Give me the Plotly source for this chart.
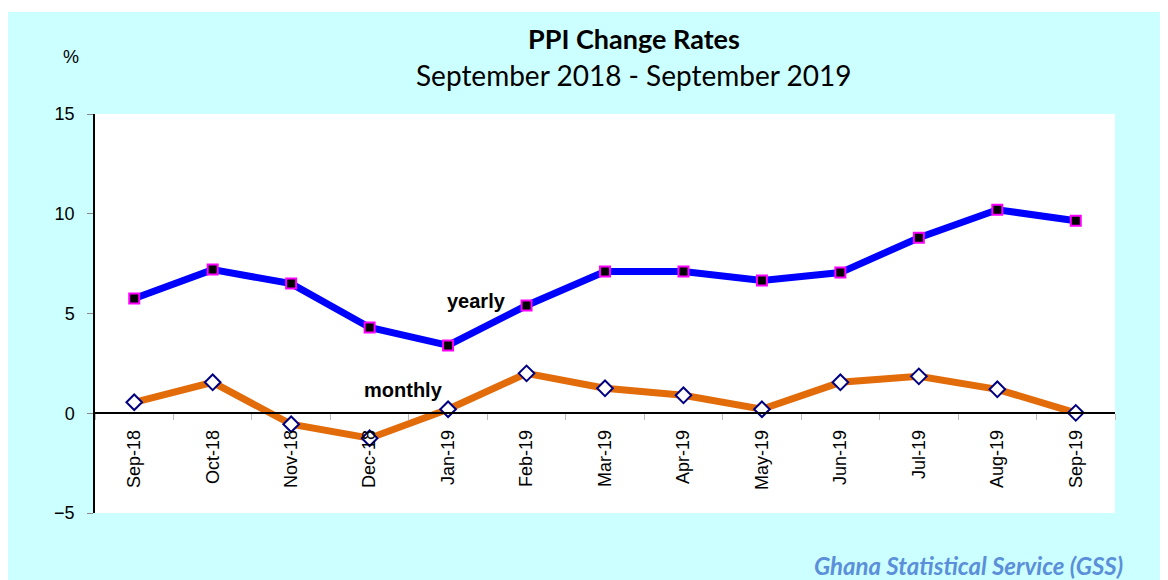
import plotly.graph_objects as go

months = ["Sep-18", "Oct-18", "Nov-18", "Dec-18", "Jan-19", "Feb-19", "Mar-19",
          "Apr-19", "May-19", "Jun-19", "Jul-19", "Aug-19", "Sep-19"]
yearly = [5.75, 7.2, 6.5, 4.3, 3.4, 5.4, 7.1, 7.1, 6.65, 7.05, 8.8, 10.2, 9.65]
monthly = [0.55, 1.55, -0.55, -1.25, 0.2, 2.0, 1.25, 0.9, 0.2, 1.55, 1.85, 1.2, 0.02]
y_ticks = [-5, 0, 5, 10, 15]

# page body has an 8px margin: work in screen pixels and shift by OFF
OFF = 8
W, H = 1168 - OFF, 580 - OFF
L, R, T, B = 95 - OFF, 1115 - OFF, 114 - OFF, 513 - OFF
pw, ph = R - L, B - T

def px(x):
    return (x - OFF - L) / pw

def py(y):
    return (B - (y - OFF)) / ph

fig = go.Figure()
fig.add_trace(go.Scatter(
    x=months, y=yearly, mode="lines+markers", name="yearly",
    line=dict(color="#0000FF", width=7),
    marker=dict(symbol="square", size=10, color="#000000",
                line=dict(color="#FF00FF", width=2)),
))
fig.add_trace(go.Scatter(
    x=months, y=monthly, mode="lines+markers", name="monthly",
    line=dict(color="#E36C0A", width=7),
    marker=dict(symbol="diamond", size=12, color="#FFFFFF",
                line=dict(color="#000080", width=2)),
))

fig.update_layout(
    width=W, height=H,
    margin=dict(l=L, r=W - R, t=T, b=H - B, pad=0),
    paper_bgcolor="#CCFFFF",
    plot_bgcolor="#FFFFFF",
    showlegend=False,
    font=dict(family="Liberation Sans, Arial", size=18, color="#000000"),
    xaxis=dict(
        type="category", range=[-0.5, 12.5],
        anchor="free", position=py(413),
        showline=True, linecolor="#000000", linewidth=1.5,
        ticks="outside", tickson="boundaries", ticklen=6, tickcolor="#BBBBBB",
        tickangle=-90, showgrid=False, zeroline=False, ticklabelstandoff=9,
        tickfont=dict(size=18, family="Liberation Sans, Arial"),
    ),
    yaxis=dict(
        range=[-5, 15], tickvals=y_ticks,
        showline=True, linecolor="#000000", linewidth=1.5,
        ticks="outside", ticklen=6, tickcolor="#888888",
        showgrid=False, zeroline=False, ticklabelstandoff=9,
        tickfont=dict(size=18, family="Liberation Sans, Arial"),
    ),
    shapes=[
        dict(type="rect", xref="paper", yref="paper",
             x0=px(-20), x1=px(1200), y0=py(12), y1=py(-20),
             fillcolor="#FFFFFF", line=dict(width=0), layer="below"),
    ],
    annotations=[
        dict(text="<b>PPI Change Rates</b>", xref="paper", yref="paper",
             x=px(634), y=py(38), showarrow=False, xanchor="center", yanchor="middle",
             font=dict(family="Lato", size=27, color="#000000")),
        dict(text="September 2018 - September 2019", xref="paper", yref="paper",
             x=px(634), y=py(75), showarrow=False, xanchor="center", yanchor="middle",
             font=dict(family="Lato", size=28, color="#000000")),
        dict(text="%", xref="paper", yref="paper",
             x=px(71), y=py(57), showarrow=False, xanchor="center", yanchor="middle",
             font=dict(size=18)),
        dict(text="<b>yearly</b>", xref="paper", yref="paper",
             x=px(476), y=py(301), showarrow=False, xanchor="center", yanchor="middle",
             font=dict(size=20)),
        dict(text="<b>monthly</b>", xref="paper", yref="paper",
             x=px(403), y=py(390), showarrow=False, xanchor="center", yanchor="middle",
             font=dict(size=20)),
        dict(text="<b><i>Ghana Statistical Service (GSS)</i></b>", xref="paper", yref="paper",
             x=px(1125), y=py(565), showarrow=False, xanchor="right", yanchor="middle",
             font=dict(family="Lato", size=24, color="#5B8FD9")),
    ],
)

fig.write_html("out.html")
